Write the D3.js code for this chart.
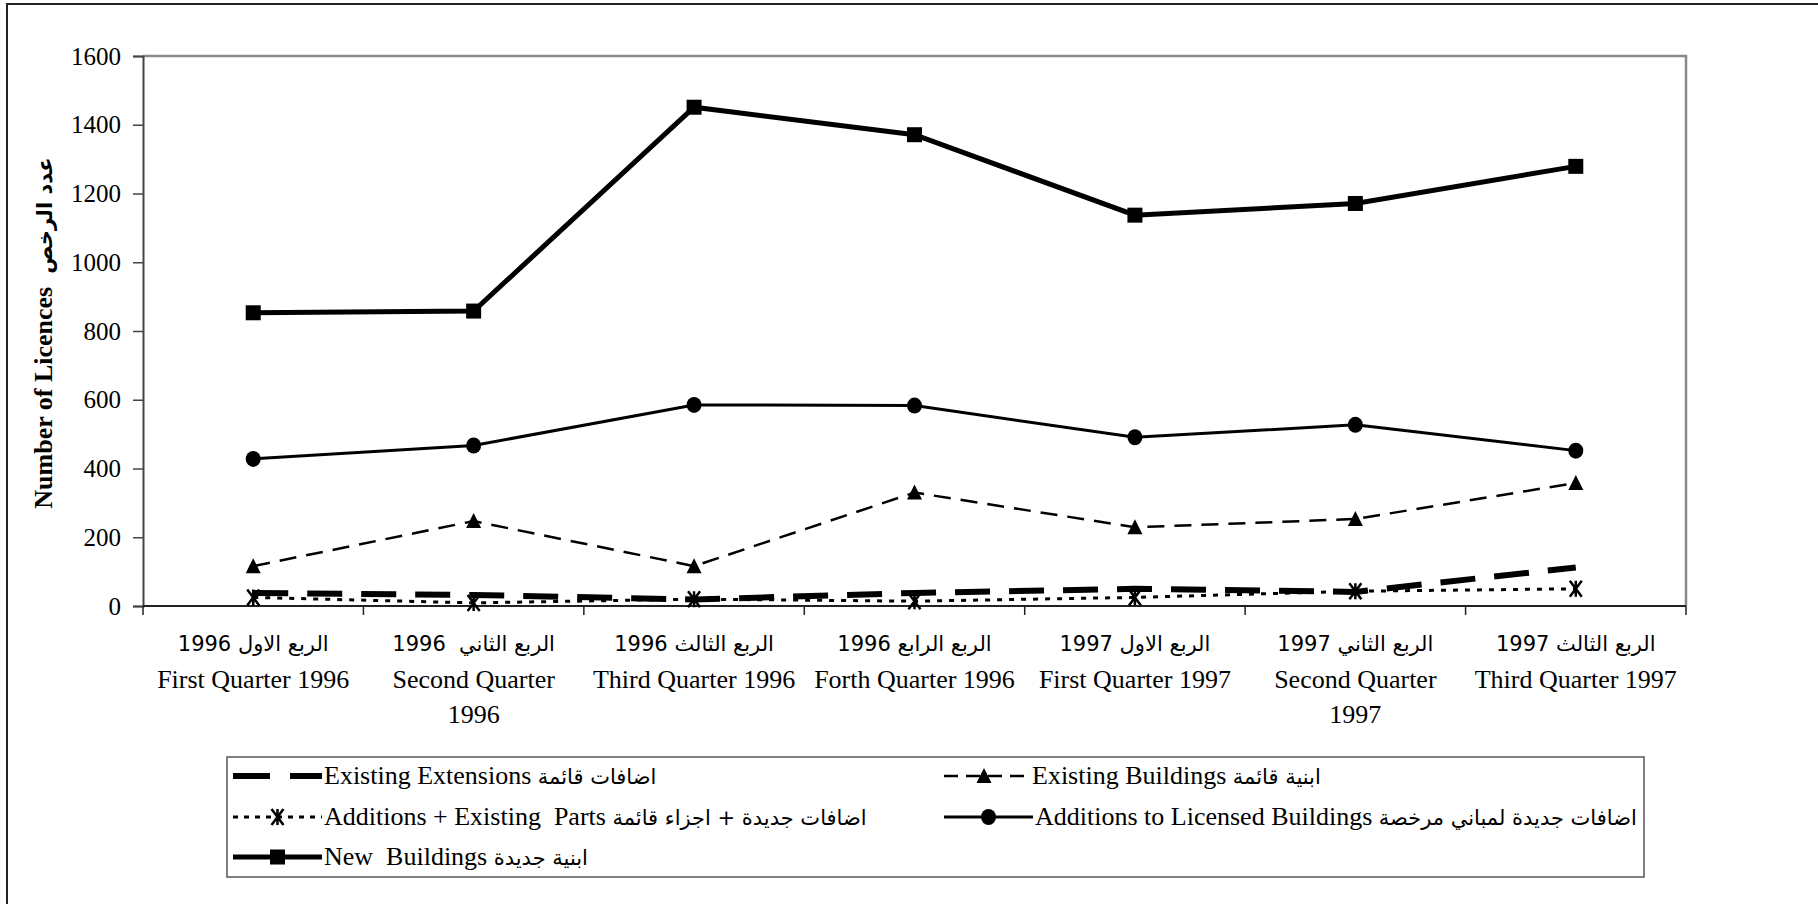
<!DOCTYPE html>
<html>
<head>
<meta charset="utf-8">
<script src="https://cdnjs.cloudflare.com/ajax/libs/d3/7.8.5/d3.min.js"></script>
<style>
body { margin: 0; background: #fff; }
text { font-family: "Liberation Serif", "Times New Roman", "DejaVu Sans", serif; fill: #000; white-space: pre; }
.ar { font-family: "DejaVu Sans", sans-serif; }
</style>
</head>
<body>
<svg width="1818" height="904"></svg>
<script>
var quartersAr = ["الربع الاول 1996", "الربع الثاني  1996", "الربع الثالث 1996", "الربع الرابع 1996",
                  "الربع الاول 1997", "الربع الثاني 1997", "الربع الثالث 1997"];
var quartersEn = [["First Quarter 1996"], ["Second Quarter", "1996"], ["Third Quarter 1996"], ["Forth Quarter 1996"],
                  ["First Quarter 1997"], ["Second Quarter", "1997"], ["Third Quarter 1997"]];
var yTicks = [0, 200, 400, 600, 800, 1000, 1200, 1400, 1600];

var existingExtensions = [38, 32, 19, 38, 50, 41, 112];
var existingBuildings  = [116, 247, 116, 330, 229, 253, 358];
var additionsParts     = [25, 9, 20, 14, 25, 43, 50];
var licensedAdditions  = [428, 467, 585, 583, 491, 527, 452];
var newBuildings       = [853, 858, 1451, 1371, 1137, 1171, 1279];

var namesEn = ["Existing Extensions ", "Existing Buildings ", "Additions + Existing  Parts ",
               "Additions to Licensed Buildings ", "New  Buildings "];
var namesAr = ["اضافات قائمة", "ابنية قائمة", "اضافات جديدة + اجزاء قائمة",
               "اضافات جديدة لمباني مرخصة", "ابنية جديدة"];

var svg = d3.select("svg"),
    width = +svg.attr("width"),
    height = +svg.attr("height");

var pLeft = 143, pRight = 1686, pTop = 56, pBottom = 606;

// outer frame (runs off the right and bottom edge like the source)
svg.append("rect")
    .attr("x", 7).attr("y", 4)
    .attr("width", width + 20).attr("height", height + 20)
    .attr("fill", "none").attr("stroke", "#222").attr("stroke-width", 2);

var x = d3.scaleBand().domain(d3.range(7)).range([pLeft, pRight]);
var y = d3.scaleLinear().domain([0, 1600]).range([pBottom, pTop]);

// plot border top + right
svg.append("path")
    .attr("d", "M" + pLeft + "," + pTop + "H" + pRight + "V" + pBottom)
    .attr("fill", "none").attr("stroke", "#8a8a8a").attr("stroke-width", 2.5);

var yAxis = svg.append("g")
    .attr("transform", "translate(" + pLeft + ",0)")
    .call(d3.axisLeft(y).tickValues(yTicks).tickSize(10).tickPadding(12).tickFormat(d3.format("d")));
yAxis.select(".domain").attr("stroke", "#444").attr("stroke-width", 2);
yAxis.selectAll(".tick line").attr("stroke", "#444").attr("stroke-width", 1.5);
yAxis.selectAll("text").style("font-size", "25px").style("font-family", "Liberation Serif");

// x axis: ticks on band boundaries
var xAxis = svg.append("g").attr("transform", "translate(0," + pBottom + ")");
xAxis.append("line")
    .attr("x1", pLeft).attr("x2", pRight)
    .attr("stroke", "#222").attr("stroke-width", 2);
xAxis.selectAll(".xt")
    .data(d3.range(8))
    .enter().append("line")
    .attr("class", "xt")
    .attr("x1", function(i) { return pLeft + i * x.step(); })
    .attr("x2", function(i) { return pLeft + i * x.step(); })
    .attr("y1", 0).attr("y2", 9)
    .attr("stroke", "#222").attr("stroke-width", 1.5);

xAxis.selectAll(".lab-ar")
    .data(quartersAr)
    .enter().append("text")
    .attr("class", "lab-ar ar")
    .attr("x", function(d, i) { return x(i) + x.bandwidth() / 2; })
    .attr("y", 45)
    .attr("text-anchor", "middle")
    .style("font-size", "21px")
    .text(function(d) { return d; });

quartersEn.forEach(function(lines, i) {
    var t = xAxis.append("text")
        .attr("x", x(i) + x.bandwidth() / 2)
        .attr("y", 82)
        .attr("text-anchor", "middle")
        .style("font-size", "26px");
    lines.forEach(function(l, j) {
        t.append("tspan")
            .attr("x", x(i) + x.bandwidth() / 2)
            .attr("dy", j == 0 ? 0 : 35)
            .text(l);
    });
});

// y title
var yt = svg.append("text")
    .attr("transform", "translate(52," + ((pTop + pBottom) / 2 + 2) + ") rotate(-90)")
    .attr("text-anchor", "middle")
    .style("font-weight", "bold");
yt.append("tspan").style("font-size", "26px").text("Number of Licences  ");
yt.append("tspan").attr("class", "ar").style("font-size", "21px").text("عدد الرخص");

// series styles
var styles = [
    {data: existingExtensions, w: 6, dash: "35,19", marker: "none"},
    {data: existingBuildings, w: 2.5, dash: "17,10", marker: "triangle"},
    {data: additionsParts, w: 3, dash: "5,7", marker: "star"},
    {data: licensedAdditions, w: 3, dash: null, marker: "circle"},
    {data: newBuildings, w: 5, dash: null, marker: "square"}
];

var line = d3.line()
    .x(function(d, i) { return x(i) + x.bandwidth() / 2; })
    .y(function(d) { return y(d); });

function drawMarker(g, kind, cx, cy) {
    if (kind == "square") {
        g.append("rect").attr("x", cx - 7.5).attr("y", cy - 7.5)
            .attr("width", 15).attr("height", 15).attr("fill", "#000");
    } else if (kind == "circle") {
        g.append("ellipse").attr("cx", cx).attr("cy", cy)
            .attr("rx", 7.5).attr("ry", 8).attr("fill", "#000");
    } else if (kind == "triangle") {
        g.append("path")
            .attr("d", "M" + cx + "," + (cy - 8) + "L" + (cx + 7.5) + "," + (cy + 7) + "L" + (cx - 7.5) + "," + (cy + 7) + "Z")
            .attr("fill", "#000");
    } else if (kind == "star") {
        g.append("path")
            .attr("d", "M" + (cx - 6) + "," + (cy - 8) + "L" + (cx + 6) + "," + (cy + 8) +
                       "M" + (cx + 6) + "," + (cy - 8) + "L" + (cx - 6) + "," + (cy + 8) +
                       "M" + cx + "," + (cy - 8) + "V" + (cy + 8))
            .attr("stroke", "#000").attr("stroke-width", 2.5).attr("fill", "none");
    }
}

var plot = svg.append("g");
// draw from back (small) to front
[0, 2, 1, 3, 4].forEach(function(k) {
    var s = styles[k];
    plot.append("path")
        .datum(s.data)
        .attr("d", line)
        .attr("fill", "none")
        .attr("stroke", "#000")
        .attr("stroke-width", s.w)
        .attr("stroke-dasharray", s.dash);
    s.data.forEach(function(v, i) {
        drawMarker(plot, s.marker, x(i) + x.bandwidth() / 2, y(v));
    });
});

// legend
var legend = svg.append("g");
legend.append("rect")
    .attr("x", 227).attr("y", 757).attr("width", 1417).attr("height", 120)
    .attr("fill", "none").attr("stroke", "#555").attr("stroke-width", 1.5);

var legendPos = [
    {k: 0, x: 233, y: 776},
    {k: 1, x: 944, y: 776},
    {k: 2, x: 233, y: 817},
    {k: 3, x: 944, y: 817},
    {k: 4, x: 233, y: 857}
];
var legendDash = ["37,20", "14,8", "5,6", null, null];

legendPos.forEach(function(p) {
    var s = styles[p.k];
    var len = p.k == 1 ? 80 : 89;
    legend.append("line")
        .attr("x1", p.x).attr("x2", p.x + len)
        .attr("y1", p.y).attr("y2", p.y)
        .attr("stroke", "#000")
        .attr("stroke-width", s.w)
        .attr("stroke-dasharray", legendDash[p.k]);
    drawMarker(legend, s.marker, p.x + len / 2, p.y);
    var t = legend.append("text")
        .attr("x", p.x + len + (p.k == 1 ? 8 : 2))
        .attr("y", p.y + 8);
    t.append("tspan").style("font-size", "26px").text(namesEn[p.k]);
    t.append("tspan").attr("class", "ar").style("font-size", "21px").text(namesAr[p.k]);
});
</script>
</body>
</html>
